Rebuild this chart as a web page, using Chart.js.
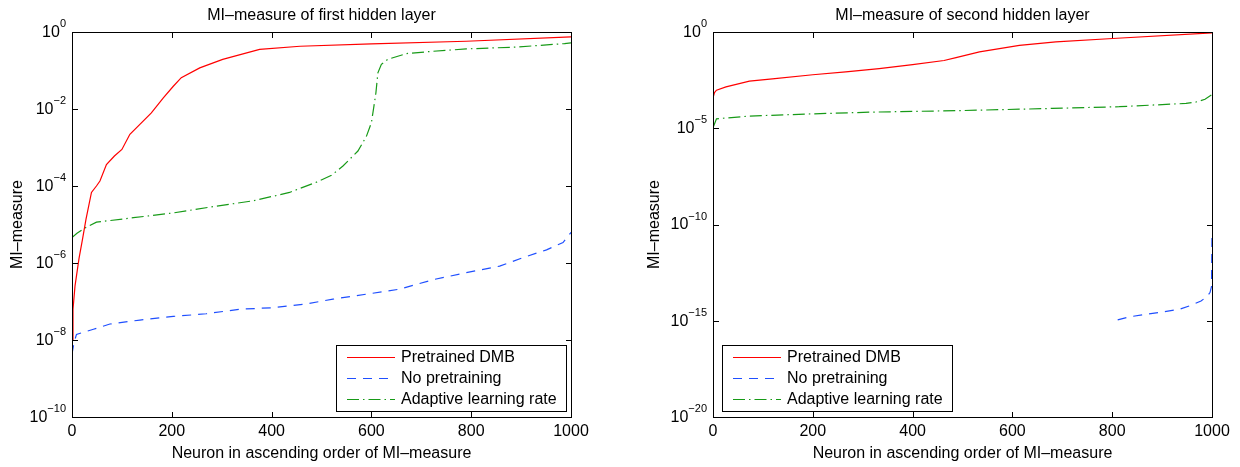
<!DOCTYPE html>
<html><head><meta charset="utf-8">
<script src="https://cdn.jsdelivr.net/npm/chart.js@4.4.1/dist/chart.umd.min.js"></script>
<style>
html,body{margin:0;padding:0;background:#fff;}
#wrap{position:relative;width:1240px;height:467px;overflow:hidden;}
.box{position:absolute;top:0;width:620px;height:467px;}
canvas{display:block;}
</style></head><body>
<div id="wrap">
<div class="box" style="left:0"><canvas id="c1" width="620" height="467"></canvas></div>
<div class="box" style="left:620px"><canvas id="c2" width="620" height="467"></canvas></div>
</div>
<script>
// ---------- data ----------
const X_TICKS = [0, 200, 400, 600, 800, 1000];
const X_TICK_LABELS = ['0', '200', '400', '600', '800', '1000'];
const LEFT_Y_TICKS = [1, 1e-2, 1e-4, 1e-6, 1e-8, 1e-10];
const LEFT_Y_EXP = ['0', '\u22122', '\u22124', '\u22126', '\u22128', '\u221210'];
const RIGHT_Y_TICKS = [1, 1e-5, 1e-10, 1e-15, 1e-20];
const RIGHT_Y_EXP = ['0', '\u22125', '\u221210', '\u221215', '\u221220'];
const SERIES_LABELS = ['Pretrained DMB', 'No pretraining', 'Adaptive learning rate'];
const LEFT_TITLE = 'MI\u2013measure of first hidden layer';
const RIGHT_TITLE = 'MI\u2013measure of second hidden layer';
const X_TITLE = 'Neuron in ascending order of MI\u2013measure';
const Y_TITLE = 'MI\u2013measure';

const leftRedX = [0,2,6,14,21,28,39,49,56,69,85,100,116,136,159,183,203,219,256,302,376,457,600,790,1000];
const leftRedY = [1.0e-8,6.3e-8,2.5e-7,1.3e-6,4.1e-6,1.35e-5,6.8e-5,1.0e-4,1.35e-4,3.6e-4,6.0e-4,8.9e-4,2.2e-3,4.0e-3,7.9e-3,1.95e-2,3.9e-2,6.5e-2,0.117,0.195,0.355,0.427,0.49,0.575,0.75];

const leftBlueX = [0,4,9,43,76,136,203,269,336,403,470,523,590,657,724,790,857,904,951,984,1000];
const leftBlueY = [4.3e-9,8.5e-9,1.4e-8,1.9e-8,2.6e-8,3.3e-8,4.1e-8,4.8e-8,6.3e-8,6.9e-8,8.7e-8,1.15e-7,1.55e-7,2.1e-7,3.7e-7,5.6e-7,8.3e-7,1.38e-6,2.2e-6,3.4e-6,6.2e-6];

const leftGreenX = [0,10,25,49,123,203,289,362,436,457,490,520,543,573,590,600,605,609,613,620,633,670,724,790,891,987,1000];
const leftGreenY = [4.6e-6,5.9e-6,8.0e-6,1.15e-5,1.5e-5,2.0e-5,3.0e-5,4.1e-5,6.8e-5,8.7e-5,1.26e-4,1.9e-4,3.3e-4,8.1e-4,1.95e-3,4.4e-3,1.17e-2,2.6e-2,8.7e-2,0.145,0.195,0.275,0.316,0.363,0.407,0.50,0.525];

const rightRedX = [0,3,7,26,73,119,200,266,333,400,463,487,534,614,687,801,1000];
const rightRedY = [3.8e-4,7.1e-4,9.5e-4,1.4e-3,2.8e-3,3.7e-3,6.0e-3,8.5e-3,1.26e-2,2.0e-2,3.3e-2,4.7e-2,9.3e-2,0.20,0.31,0.46,0.91];

const rightBlueX = [811,834,881,934,958,978,990,996,999,1000];
const rightBlueY = [1.1e-15,1.6e-15,2.4e-15,3.9e-15,6.3e-15,1.07e-14,1.8e-14,2.9e-14,6e-14,3.2e-11];

const rightGreenX = [0,7,73,200,320,500,680,814,948,968,986,1000];
const rightGreenY = [1.07e-5,3.1e-5,4.3e-5,5.6e-5,6.9e-5,8.3e-5,1.07e-4,1.32e-4,1.95e-4,2.3e-4,3.2e-4,5.6e-4];

// ---------- styles ----------
const FONT = '"Liberation Sans", Arial, Helvetica, sans-serif';
const RED = '#ff0000', BLUE = '#1f4fff', GREEN = '#179a17';
const DASH_BLUE = [9, 7];
const DASH_GREEN = [12, 4, 1.5, 4];

function pts(xs, ys) { return xs.map((x, i) => ({x: x, y: ys[i]})); }

const decor = {
  id: 'decor',
  afterDatasetsDraw(chart, args, opts) {
    const ctx = chart.ctx, a = chart.chartArea, x = chart.scales.x, y = chart.scales.y;
    ctx.save();
    // title centred over the plot box
    ctx.fillStyle = '#000'; ctx.font = '16px ' + FONT;
    ctx.textAlign = 'center'; ctx.textBaseline = 'middle';
    ctx.fillText(opts.title, (a.left + a.right) / 2, 16);
    // box
    ctx.strokeStyle = '#000'; ctx.lineWidth = 1; ctx.setLineDash([]);
    ctx.strokeRect(a.left + 0.5, a.top + 0.5, a.right - a.left, a.bottom - a.top);
    ctx.beginPath();
    x.ticks.forEach(t => {
      const px = Math.round(x.getPixelForValue(t.value)) + 0.5;
      ctx.moveTo(px, a.bottom); ctx.lineTo(px, a.bottom - 5);
      ctx.moveTo(px, a.top + 1); ctx.lineTo(px, a.top + 6);
    });
    y.ticks.forEach(t => {
      const py = Math.round(y.getPixelForValue(t.value)) + 0.5;
      ctx.moveTo(a.left + 1, py); ctx.lineTo(a.left + 6, py);
      ctx.moveTo(a.right, py); ctx.lineTo(a.right - 5, py);
    });
    ctx.stroke();
    // y tick labels 10^n
    ctx.fillStyle = '#000';
    ctx.textBaseline = 'middle';
    y.ticks.forEach((t, i) => {
      const py = y.getPixelForValue(t.value);
      const exp = opts.yExp[i];
      ctx.font = '11px ' + FONT;
      const ew = ctx.measureText(exp).width;
      const right = a.left - 6;
      ctx.textAlign = 'right';
      ctx.fillText(exp, right, py - 8);
      ctx.font = '16px ' + FONT;
      ctx.fillText('10', right - ew, py + 0.5);
    });
    // legend
    const bw = 230, bh = 66;
    const bx = opts.legendPos === 'se' ? a.right - 5 - bw : a.left + 9;
    const by = a.bottom - 6 - bh;
    ctx.fillStyle = '#fff';
    ctx.fillRect(bx, by, bw, bh);
    ctx.strokeStyle = '#000'; ctx.lineWidth = 1;
    ctx.strokeRect(Math.round(bx) + 0.5, Math.round(by) + 0.5, bw, bh);
    chart.data.datasets.forEach((ds, i) => {
      const ry = Math.round(by + 12 + i * 20.8) + 0.5;
      ctx.strokeStyle = ds.borderColor; ctx.lineWidth = ds.borderWidth;
      ctx.setLineDash(ds.borderDash || []);
      ctx.beginPath(); ctx.moveTo(bx + 11, ry); ctx.lineTo(bx + 59, ry); ctx.stroke();
      ctx.setLineDash([]);
      ctx.fillStyle = '#000'; ctx.font = '16px ' + FONT;
      ctx.textAlign = 'left'; ctx.textBaseline = 'middle';
      ctx.fillText(ds.label, bx + 65, ry);
    });
    ctx.restore();
  }
};

function makeChart(id, title, yTicks, yExp, yMin, series, yAxisWidth, padRight, yTitlePad, legendPos) {
  return new Chart(document.getElementById(id), {
    type: 'line',
    data: {
      datasets: series.map((s, i) => ({
        label: SERIES_LABELS[i],
        data: pts(s.x, s.y),
        borderColor: s.color,
        borderWidth: 1.2,
        borderDash: s.dash,
        pointRadius: 0,
        tension: 0,
        fill: false
      }))
    },
    options: {
      responsive: false,
      animation: false,
      devicePixelRatio: 1,
      layout: {padding: {left: 0, right: padRight, top: 32, bottom: 0}},
      plugins: {
        legend: {display: false},
        tooltip: {enabled: false},
        title: {display: false},
        decor: {yExp: yExp, legendPos: legendPos, title: title}
      },
      scales: {
        x: {
          type: 'linear', min: 0, max: 1000,
          afterBuildTicks: sc => { sc.ticks = X_TICKS.map(v => ({value: v})); },
          afterFit: sc => { sc.height = 50; },
          grid: {display: false},
          border: {display: false},
          ticks: {color: '#000', font: {family: FONT, size: 16}, padding: -3, maxRotation: 0, autoSkip: false,
            callback: (v, i) => X_TICK_LABELS[X_TICKS.indexOf(v)]},
          title: {display: true, text: X_TITLE, color: '#000',
            font: {family: FONT, size: 16}, padding: {top: 0, bottom: 4}}
        },
        y: {
          type: 'logarithmic', min: yMin, max: 1,
          afterBuildTicks: sc => { sc.ticks = yTicks.map(v => ({value: v})); },
          afterFit: sc => { sc.width = yAxisWidth; },
          grid: {display: false},
          border: {display: false},
          ticks: {display: false},
          title: {display: true, text: Y_TITLE, color: '#000',
            font: {family: FONT, size: 16}, padding: {top: yTitlePad, bottom: 0}}
        }
      }
    },
    plugins: [decor]
  });
}

makeChart('c1', LEFT_TITLE, LEFT_Y_TICKS, LEFT_Y_EXP, 1e-10, [
  {x: leftRedX, y: leftRedY, color: RED, dash: []},
  {x: leftBlueX, y: leftBlueY, color: BLUE, dash: DASH_BLUE},
  {x: leftGreenX, y: leftGreenY, color: GREEN, dash: DASH_GREEN}
], 72, 49, 8, 'se');

makeChart('c2', RIGHT_TITLE, RIGHT_Y_TICKS, RIGHT_Y_EXP, 1e-20, [
  {x: rightRedX, y: rightRedY, color: RED, dash: []},
  {x: rightBlueX, y: rightBlueY, color: BLUE, dash: DASH_BLUE},
  {x: rightGreenX, y: rightGreenY, color: GREEN, dash: DASH_GREEN}
], 93, 28, 25, 'sw');
</script>
</body></html>
